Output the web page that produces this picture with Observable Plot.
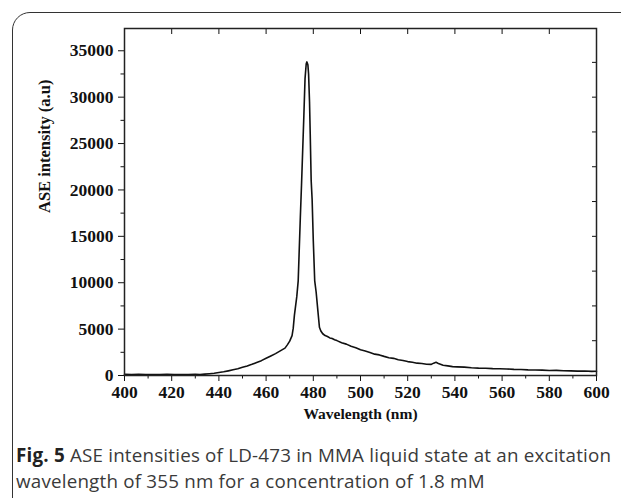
<!DOCTYPE html>
<html>
<head>
<meta charset="utf-8">
<script src="https://cdn.jsdelivr.net/npm/d3@7"></script>
<script src="https://cdn.jsdelivr.net/npm/@observablehq/plot@0.6"></script>
<style>
  html, body { margin: 0; padding: 0; background: #fff; width: 621px; height: 498px; overflow: hidden; }
  #box { position: absolute; left: 12px; top: 12px; width: 700px; height: 600px; border: 1.5px solid #333; border-radius: 18px; box-sizing: border-box; }
  #chart { position: absolute; left: 0; top: 0; }
  #caption { position: absolute; left: 16px; top: 443px; width: 605px; font-family: "Open Sans", sans-serif; font-size: 18.8px; line-height: 25.5px; letter-spacing: 0.2px; color: #3a3a3a; white-space: nowrap; }
  #caption .fig { color: #222; font-weight: bold; }
</style>
</head>
<body>
<div id="box"></div>
<div id="chart"></div>
<div id="caption"><span class="fig">Fig. 5</span> ASE intensities of LD-473 in MMA liquid state at an excitation<br>wavelength of 355 nm for a concentration of 1.8 mM</div>
<script>
const wavelength = [
  400, 403, 406, 409, 412, 415, 418, 421, 424, 427, 430, 432, 434, 436, 438, 440,
  442, 444, 446, 448, 450, 452, 454, 456, 458, 460, 462, 464, 466, 468, 469, 470,
  471, 471.5, 472, 473, 473.6, 474.5, 475, 476, 476.5, 477, 477.3, 477.7, 478, 478.4,
  478.7, 479.1, 479.5, 480, 480.6, 481.2, 482, 482.6, 483.2, 484, 485, 486, 487, 488,
  489, 490, 492, 494, 496, 498, 500, 502, 504, 506, 508, 510, 512, 514, 516, 518,
  520, 522, 524, 526, 528, 530, 531, 532, 533, 535, 537, 539, 541, 544, 547, 550,
  553, 556, 559, 562, 565, 568, 571, 574, 577, 580, 583, 586, 589, 592, 595, 598, 600
];
const intensity = [
  120, 100, 130, 95, 115, 90, 125, 100, 110, 95, 120, 110, 150, 190, 240, 330,
  400, 500, 610, 720, 880, 1030, 1200, 1400, 1600, 1850, 2100, 2360, 2650, 2950, 3300, 3700,
  4300, 5100, 6500, 8500, 10200, 17000, 20500, 28000, 32000, 33600, 33800, 33500, 32500, 29500,
  26000, 21000, 19000, 14500, 10200, 9000, 6800, 5200, 4800, 4500, 4300, 4200, 4050, 3980,
  3850, 3760, 3530, 3380, 3150, 3000, 2780, 2650, 2490, 2300, 2220, 2060, 1920, 1850, 1700, 1620,
  1500, 1430, 1330, 1300, 1220, 1200, 1330, 1420, 1300, 1110, 1040, 960, 930, 900, 840, 800,
  780, 740, 720, 700, 660, 650, 610, 600, 580, 540, 550, 510, 500, 470, 480, 440, 460
];
const xMajor = [400, 420, 440, 460, 480, 500, 520, 540, 560, 580, 600];
const xMinor = [410, 430, 450, 470, 490, 510, 530, 550, 570, 590];
const yMajor = [0, 5000, 10000, 15000, 20000, 25000, 30000, 35000];
const yMinor = [2500, 7500, 12500, 17500, 22500, 27500, 32500];
const yRight = [3750, 7500, 11250, 15000, 18750, 22500, 26250, 30000, 33750];
const xLabel = "Wavelength (nm)";
const yLabel = "ASE intensity (a.u)";

const data = wavelength.map((w, i) => ({w, v: intensity[i]}));

const font = {fontFamily: "Liberation Serif", fontWeight: "bold", fill: "#111"};

const chart = Plot.plot({
  width: 621,
  height: 440,
  marginLeft: 124,
  marginRight: 25,
  marginTop: 28,
  marginBottom: 65,
  style: {fontFamily: "Liberation Serif", background: "transparent", color: "#111"},
  x: {domain: [400, 600]},
  y: {domain: [0, 37400]},
  marks: [
    Plot.axisX({ticks: xMajor, tickSize: 6, tickPadding: 4, fontSize: 17.5, fontWeight: "bold", label: null, tickFormat: d3.format("d")}),
    Plot.axisX({ticks: xMinor, tickSize: 3.5, label: null, tickFormat: () => ""}),
    Plot.axisX({anchor: "top", ticks: xMajor, tickSize: 5, dy: 5, label: null, tickFormat: () => ""}),
    Plot.axisY({ticks: yMajor, tickSize: 6, tickPadding: 5, fontSize: 17.5, fontWeight: "bold", label: null, tickFormat: d3.format("d")}),
    Plot.axisY({ticks: yMinor, tickSize: 3.5, label: null, tickFormat: () => ""}),
    Plot.axisY({anchor: "right", ticks: yRight, tickSize: 5, dx: -5, label: null, tickFormat: () => ""}),
    Plot.line(data, {x: "w", y: "v", stroke: "#111", strokeWidth: 1.6, strokeLinejoin: "round"}),
    Plot.frame({stroke: "#222", strokeWidth: 1.5}),
    Plot.text([xLabel], {frameAnchor: "bottom", dy: 43, fontSize: 15.5, ...font}),
    Plot.text([yLabel], {frameAnchor: "left", dx: -80, dy: 11, rotate: -90, fontSize: 16.5, ...font})
  ]
});
document.getElementById("chart").appendChild(chart);
</script>
</body>
</html>
